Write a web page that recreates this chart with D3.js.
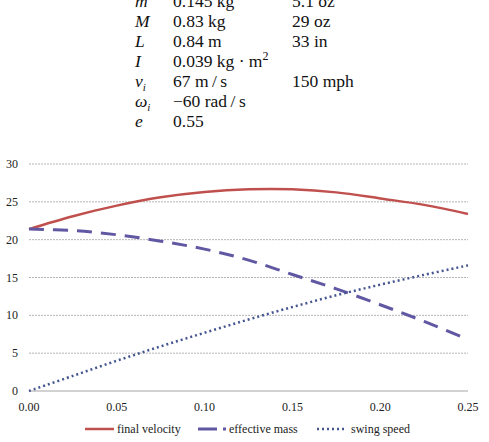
<!DOCTYPE html>
<html>
<head>
<meta charset="utf-8">
<script src="https://cdn.jsdelivr.net/npm/d3@7"></script>
<style>
  body { margin: 0; background: #fff; }
  svg { display: block; }
</style>
</head>
<body>
<div id="chart"></div>
<script>
// Table of constants
var symbols = ["m", "M", "L", "I", "v|i", "ω|i", "e"];
var metricValues = ["0.145 kg", "0.83 kg", "0.84 m", "0.039 kg · m^2", "67 m/s", "−60 rad/s", "0.55"];
var imperialValues = ["5.1 oz", "29 oz", "33 in", "", "150 mph", "", ""];

// Chart data
var xs = [0, 0.025, 0.05, 0.075, 0.10, 0.125, 0.15, 0.175, 0.20, 0.225, 0.25];
var finalVelocity = [21.4, 23.1, 24.5, 25.6, 26.3, 26.65, 26.65, 26.25, 25.45, 24.6, 23.4];
var effectiveMass = [21.4, 21.2, 20.65, 19.8, 18.75, 17.3, 15.4, 13.5, 11.4, 9.2, 6.8];
var swingSpeed = [0, 2.0, 4.0, 5.9, 7.7, 9.45, 11.1, 12.65, 14.05, 15.35, 16.6];
var xTicks = [0, 0.05, 0.10, 0.15, 0.20, 0.25];
var yTicks = [0, 5, 10, 15, 20, 25, 30];
var seriesNames = ["final velocity", "effective mass", "swing speed"];

var width = 489, height = 442;
var svg = d3.select("#chart").append("svg")
  .attr("width", width).attr("height", height);

// ---- the table ----
var tableFont = "'Liberation Serif', 'Times New Roman', serif";
var table = svg.append("g").attr("font-family", tableFont).attr("font-size", "17.5px").attr("fill", "#111");

symbols.forEach(function (s, i) {
  var y = 7.3 + i * 20;
  var parts = s.split("|");
  var t = table.append("text").attr("x", 135).attr("y", y).attr("font-style", "italic");
  t.append("tspan").text(parts[0]);
  if (parts[1]) {
    t.append("tspan").attr("dy", 3.5).attr("font-size", "11px").text(parts[1]);
  }

  var v = metricValues[i];
  var vt = table.append("text").attr("x", 173).attr("y", y);
  if (v.indexOf("^") >= 0) {
    var vp = v.split("^");
    vt.append("tspan").text(vp[0]);
    vt.append("tspan").attr("dy", -7).attr("font-size", "12px").text(vp[1]);
  } else {
    vt.text(v.replace("/", "\u2009/\u2009"));
  }

  table.append("text").attr("x", 292).attr("y", y).text(imperialValues[i]);
});

// ---- the chart ----
var axisFont = "'Liberation Serif', 'Times New Roman', serif";
var x = d3.scaleLinear().domain([0, 0.25]).range([29, 468]);
var y = d3.scaleLinear().domain([0, 30]).range([391, 164]);

// gridlines
svg.append("g").selectAll("line")
  .data(yTicks.filter(function (d) { return d > 0; }))
  .enter().append("line")
  .attr("x1", x(0)).attr("x2", x(0.25))
  .attr("y1", function (d) { return y(d); })
  .attr("y2", function (d) { return y(d); })
  .attr("stroke", "#b5b5b5")
  .attr("stroke-width", 1)
  .attr("stroke-dasharray", "2,1");

// baseline
svg.append("line")
  .attr("x1", x(0)).attr("x2", x(0.25))
  .attr("y1", y(0)).attr("y2", y(0))
  .attr("stroke", "#a6a6a6").attr("stroke-width", 1.2);

// y tick labels
svg.append("g").selectAll("text")
  .data(yTicks).enter().append("text")
  .attr("x", 18)
  .attr("y", function (d) { return y(d) + 4; })
  .attr("text-anchor", "end")
  .attr("font-family", axisFont)
  .attr("font-size", "12px")
  .attr("fill", "#222")
  .text(function (d) { return d; });

// x tick labels
svg.append("g").selectAll("text")
  .data(xTicks).enter().append("text")
  .attr("x", function (d) { return x(d); })
  .attr("y", 411)
  .attr("text-anchor", "middle")
  .attr("font-family", axisFont)
  .attr("font-size", "12px")
  .attr("fill", "#222")
  .text(function (d) { return d3.format(".2f")(d); });

var line = d3.line()
  .x(function (d, i) { return x(xs[i]); })
  .y(function (d) { return y(d); })
  .curve(d3.curveCatmullRom.alpha(0.5));

var styles = [
  { color: "#c0504d", width: 2.5, dash: null },
  { color: "#6158a3", width: 3, dash: "15,9" },
  { color: "#45558f", width: 2.5, dash: "2,3" }
];
var allSeries = [finalVelocity, effectiveMass, swingSpeed];

allSeries.forEach(function (s, i) {
  svg.append("path")
    .datum(s)
    .attr("d", line)
    .attr("fill", "none")
    .attr("stroke", styles[i].color)
    .attr("stroke-width", styles[i].width)
    .attr("stroke-dasharray", styles[i].dash);
});

// legend
var legendPos = [
  { x1: 85, x2: 114, tx: 117 },
  { x1: 198, x2: 226, tx: 229 },
  { x1: 317, x2: 346, tx: 351 }
];
var legend = svg.append("g");
seriesNames.forEach(function (name, i) {
  var p = legendPos[i];
  legend.append("line")
    .attr("x1", p.x1).attr("x2", p.x2)
    .attr("y1", 429).attr("y2", 429)
    .attr("stroke", styles[i].color)
    .attr("stroke-width", styles[i].width)
    .attr("stroke-dasharray", i === 1 ? "19,6,3,30" : styles[i].dash);
  legend.append("text")
    .attr("x", p.tx).attr("y", 433)
    .attr("font-family", axisFont)
    .attr("font-size", "12px")
    .attr("fill", "#222")
    .text(name);
});
</script>
</body>
</html>
